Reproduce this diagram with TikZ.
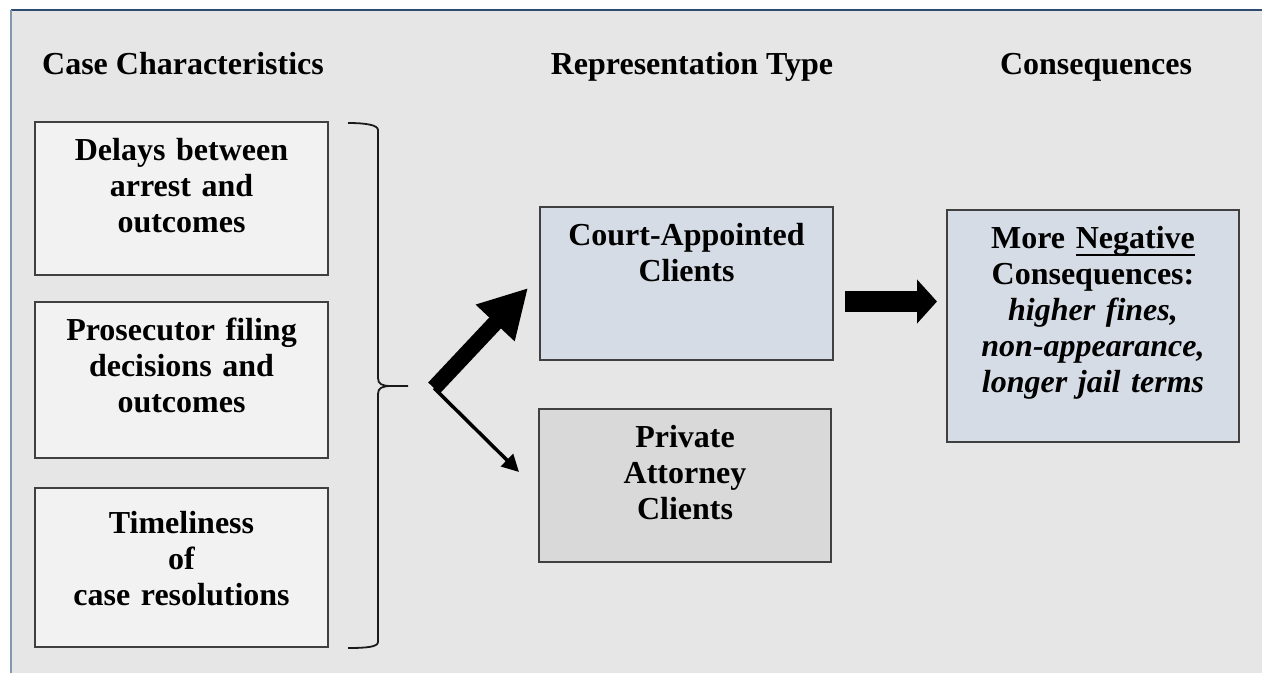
\documentclass[tikz,border=0pt]{standalone}
\usepackage{fontspec}
\setmainfont{Liberation Serif}
\usetikzlibrary{arrows.meta}

\definecolor{panel}{HTML}{E6E6E6}
\definecolor{lightbox}{HTML}{F2F2F2}
\definecolor{bluebox}{HTML}{D6DCE5}
\definecolor{graybox}{HTML}{D9D9D9}
\definecolor{edge}{HTML}{404040}
\definecolor{topline}{HTML}{2F4B74}
\definecolor{leftline}{HTML}{8497B0}
\definecolor{ink}{HTML}{1A1A1A}

% strut that fixes the height of the first line of a box text
\newcommand\firstline{\rule{0pt}{25pt}}
% heavy underline sitting just under the descenders
\newcommand\lineunder[1]{\setbox0\hbox{#1}\rlap{\rule[-7.5pt]{\wd0}{2.3pt}}\box0}

\tikzset{
  box/.style={draw=edge, line width=1.6pt, rectangle, inner sep=0pt},
  txt/.style={font=\bfseries\fontsize{32}{36}\selectfont, align=center,
              text width=284pt, inner sep=0pt, anchor=north},
  head/.style={font=\bfseries\fontsize{32}{36}\selectfont, inner sep=0pt, anchor=base},
}

\begin{document}
\begin{tikzpicture}[x=1pt, y=-1pt]
  \useasboundingbox (0,0) rectangle (1262,673);

  % background panel with its two visible edges
  \fill[panel] (11,10) rectangle (1262,673);
  \draw[topline, line width=1.5pt] (11,10) -- (1262,10);
  \draw[leftline, line width=2pt] (11,10) -- (11,673);

  % column headings
  \node[head] (hcase) at (183,74) {Case Characteristics};
  \node[head] (hrep)  at (692,74) {Representation Type};
  \node[head] (hcons) at (1096,74) {Consequences};

  % case characteristic boxes
  \node[box, fill=lightbox, minimum width=293pt, minimum height=153pt] (delays) at (181.5,198.5) {};
  \node[txt] (tdelays) at ([yshift=-14pt]delays.north) {\firstline Delays between\\arrest and\\outcomes};

  \node[box, fill=lightbox, minimum width=293pt, minimum height=156pt] (filing) at (181.5,380) {};
  \node[txt] (tfiling) at ([yshift=-14pt]filing.north) {\firstline Prosecutor filing\\decisions and\\outcomes};

  \node[box, fill=lightbox, minimum width=293pt, minimum height=159pt] (timely) at (181.5,567.5) {};
  \node[txt] (ttimely) at ([yshift=-21pt]timely.north) {\firstline Timeliness\\of\\case resolutions};

  % representation boxes
  \node[box, fill=bluebox, minimum width=293pt, minimum height=153pt] (court) at (686.5,283.5) {};
  \node[txt] (tcourt) at ([yshift=-14pt]court.north) {\firstline Court-Appointed\\Clients};

  \node[box, fill=graybox, minimum width=292pt, minimum height=153pt] (private) at (685,485.5) {};
  \node[txt] (tprivate) at ([yshift=-14pt]private.north) {\firstline Private\\Attorney\\Clients};

  % consequences box
  \node[box, fill=bluebox, minimum width=292pt, minimum height=232pt] (cons) at (1093,326) {};
  \node[txt] (tcons) at ([yshift=-14pt]cons.north)
    {\firstline More \lineunder{Negative}\\Consequences:\\\itshape higher fines,\\\itshape non-appearance,\\\itshape longer jail terms};

  % brace grouping the three characteristics
  \coordinate (btop) at (348,123);
  \coordinate (btip) at (408,386);
  \coordinate (bbot) at (348,648);
  \draw[ink, line width=1.8pt]
    (btop) .. controls (366,123) and (378,125) .. (378,130)
    -- (378,378) .. controls (378,384) and (382,386) .. (391,386) -- (btip)
    (391,386) .. controls (382,386) and (378,388) .. (378,394)
    -- (378,642) .. controls (378,647) and (366,648) .. (bbot);

  % arrows out of the brace
  \coordinate (fork) at (434,388);
  \coordinate (courtin) at (528,288);
  \coordinate (privin) at (519,472);
  \draw[line width=16pt, -{Triangle[length=48pt, width=50pt]}] (fork) -- (courtin);
  \draw[line width=3.5pt, -{Triangle[length=17pt, width=17pt]}] (fork) -- (privin);

  % block arrow from court-appointed to consequences
  \coordinate (blockfrom) at (845,301.5);
  \coordinate (blockto) at (937,301.5);
  \draw[line width=21pt, -{Triangle[length=20pt, width=43pt]}] (blockfrom) -- (blockto);
\end{tikzpicture}
\end{document}
